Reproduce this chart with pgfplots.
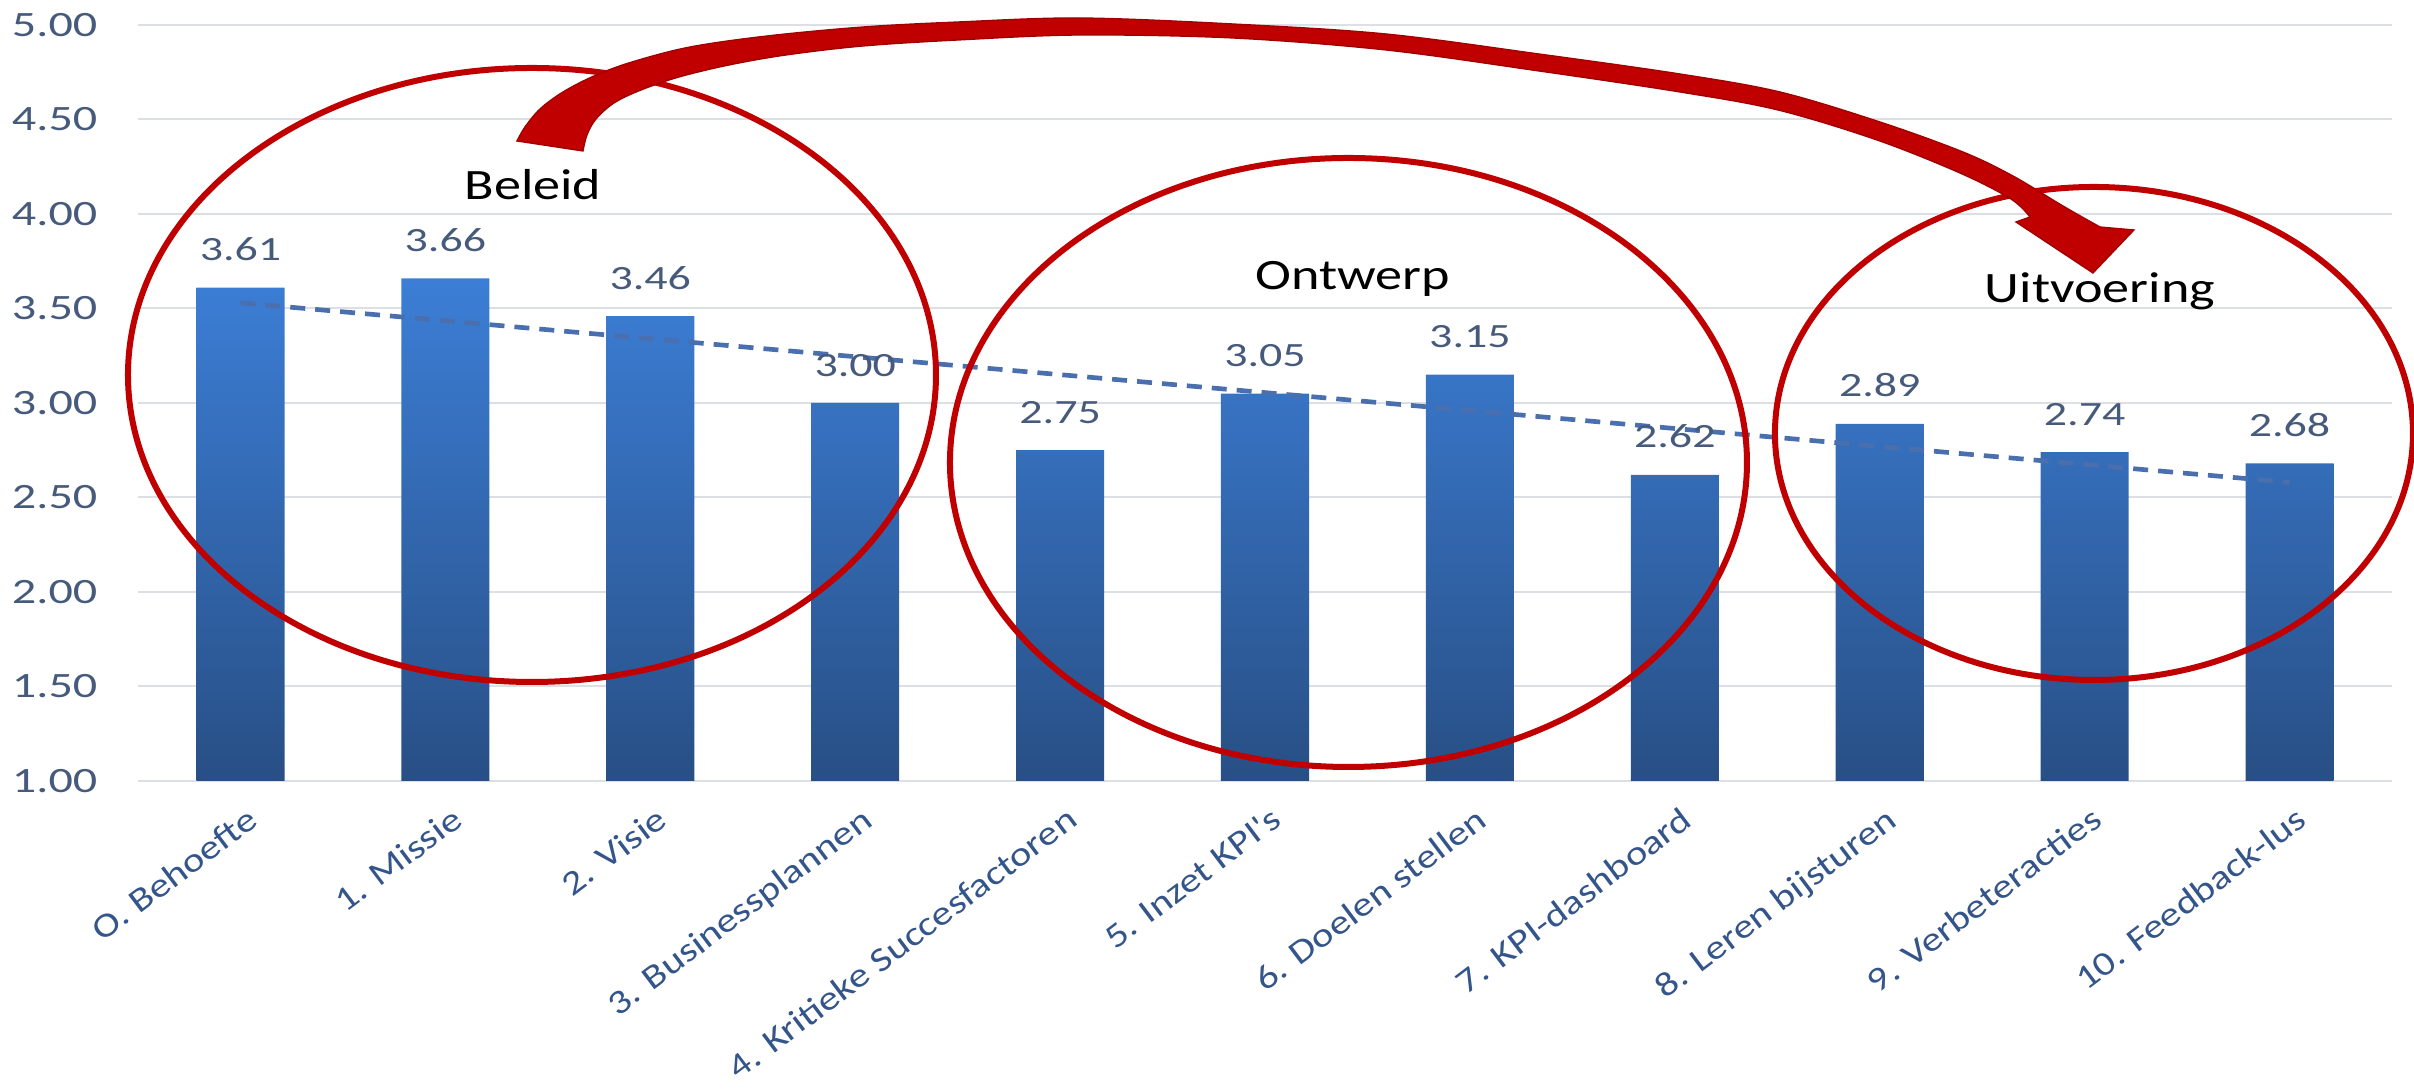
\documentclass[border=0pt]{standalone}
\usepackage{fontspec}
\setmainfont{Carlito}
\newfontfamily\numfont[FakeStretch=1.35]{Carlito}
\newfontfamily\catfont[FakeStretch=1.2]{Carlito}
\newfontfamily\grpfont[FakeStretch=1.25]{Carlito}
\usepackage{pgfplots}
\pgfplotsset{compat=1.18}
\usepackage{pgfplotstable}
\definecolor{barTop}{HTML}{3C7ED6}
\definecolor{barBot}{HTML}{284F85}
\definecolor{gridcol}{HTML}{DCDFE3}
\definecolor{numcol}{HTML}{465A7C}
\definecolor{catcol}{HTML}{34558A}
\definecolor{trendcol}{HTML}{4A6FAE}
\definecolor{redline}{HTML}{C00000}
\definecolor{reddark}{HTML}{A00000}

\pgfplotstableread{
x y
0 3.61
1 3.66
2 3.46
3 3.00
4 2.75
5 3.05
6 3.15
7 2.62
8 2.89
9 2.74
10 2.68
}\scores

\begin{document}
\begin{tikzpicture}
\useasboundingbox (0,0) rectangle (724.2bp,327.3bp);
\begin{axis}[
  at={(41.4bp,93bp)}, anchor=south west,
  scale only axis, width=676.2bp, height=226.8bp,
  xmin=-0.5, xmax=10.5, ymin=1, ymax=5,
  xtick={0,1,2,3,4,5,6,7,8,9,10},
  xticklabels={O. Behoefte, 1. Missie, 2. Visie, 3. Businessplannen, 4. Kritieke Succesfactoren, 5. Inzet KPI's, 6. Doelen stellen, 7. KPI-dashboard, 8. Leren bijsturen, 9. Verbeteracties, 10. Feedback-lus},
  ytick={1,1.5,2,2.5,3,3.5,4,4.5,5},
  yticklabels={1.00,1.50,2.00,2.50,3.00,3.50,4.00,4.50,5.00},
  ymajorgrids, grid style={draw=gridcol, line width=0.6bp},
  axis line style={draw=none},
  major tick length=0pt,
  yticklabel style={font=\numfont\fontsize{10.7bp}{12bp}\selectfont, text=numcol, inner sep=0pt, xshift=-12bp},
  xticklabel style={font=\catfont\fontsize{10.2bp}{12bp}\selectfont, text=catcol, inner sep=0pt, anchor=north east, xshift=1.5bp, yshift=-7bp, rotate=37},
  /pgf/number format/assume math mode=true,
]
\addplot[ybar, bar width=0.43, draw=none, top color=barTop, bottom color=barBot,
  point meta=y,
  nodes near coords={\pgfmathprintnumber[fixed,fixed zerofill,precision=2]{\pgfplotspointmeta}},
  nodes near coords style={font=\numfont\fontsize{10.2bp}{12bp}\selectfont, text=numcol, anchor=south, inner sep=0pt, yshift=7.8bp}]
  table[x=x,y=y]{\scores};
\addplot[sharp plot, no markers, draw=trendcol, line width=1.4bp, dash pattern=on 4.5bp off 3bp]
  coordinates {(0,3.53) (10,2.58)};
\end{axis}
\begin{scope}[x=0.3bp, y=-0.3bp, shift={(0bp,327.3bp)}]
  \draw[redline, line width=1.8bp] (532,375) ellipse [x radius=121.2bp, y radius=92.1bp];
  \draw[redline, line width=1.8bp] (1348.5,462.5) ellipse [x radius=119.55bp, y radius=91.35bp];
  \draw[redline, line width=1.8bp] (2094,433.5) ellipse [x radius=95.7bp, y radius=73.95bp];
  \fill[redline, draw=reddark, line width=0.4bp]
    plot[smooth, tension=0.55] coordinates {(517,141) (525,127) (540,109) (563,92) (594,76) (632,62) (690,47) (767,36) (863,27) (958,22) (1080,18) (1233,24) (1386,34) (1539,54) (1680,74) (1780,92) (1880,122) (1963,152) (2013,176) (2063,206) (2100,227)}
    -- (2134,230) -- (2093,273) -- (2016,222)
    -- plot[smooth, tension=0.55] coordinates {(2030,217) (2011,199) (1960,173) (1877,140) (1778,110) (1680,92) (1539,71) (1386,50) (1233,38) (1080,35) (958,40) (863,46) (786,55) (729,65) (679,77) (641,90) (614,103) (596,119) (587,135) (583,151)}
    -- cycle;
  \node[anchor=base, inner sep=0pt, font=\grpfont\fontsize{13bp}{15bp}\selectfont] at (533,200) {Beleid};
  \node[anchor=base, inner sep=0pt, font=\grpfont\fontsize{13bp}{15bp}\selectfont] at (1353,290) {Ontwerp};
  \node[anchor=base, inner sep=0pt, font=\grpfont\fontsize{13bp}{15bp}\selectfont] at (2100,303) {Uitvoering};
\end{scope}
\end{tikzpicture}
\end{document}
